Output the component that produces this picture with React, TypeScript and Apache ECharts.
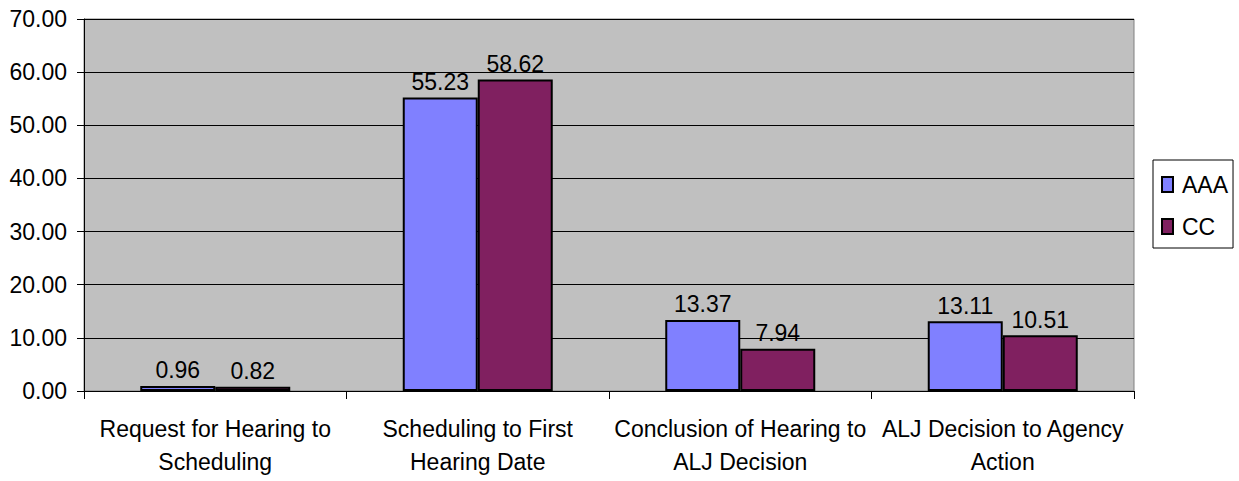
import React, { useEffect, useRef } from "react";
import * as echarts from "echarts";

const categories = [
  "Request for Hearing to\nScheduling",
  "Scheduling to First\nHearing Date",
  "Conclusion of Hearing to\nALJ Decision",
  "ALJ Decision to Agency\nAction",
];
const seriesNames = ["AAA", "CC"];
const aaaValues = [0.96, 55.23, 13.37, 13.11];
const ccValues = [0.82, 58.62, 7.94, 10.51];
const colors = ["#8080FF", "#802060"];

const FONT = "'Liberation Sans', Arial, sans-serif";

export default function App() {
  const ref = useRef<HTMLDivElement>(null);
  useEffect(() => {
    const chart = echarts.init(ref.current!, null, { renderer: "svg" });
    const label = {
      show: true,
      position: "top",
      distance: 4,
      color: "#000",
      fontFamily: FONT,
      fontSize: 23,
      formatter: (p: any) => Number(p.value).toFixed(2),
    };
    chart.setOption({
      animation: false,
      backgroundColor: "#ffffff",
      grid: {
        left: 84,
        right: 105,
        top: 19,
        bottom: 90,
        show: true,
        backgroundColor: "#C0C0C0",
        borderColor: "#808080",
        borderWidth: 1,
      },
      legend: {
        orient: "vertical",
        left: 1153,
        top: 160,
        backgroundColor: "#ffffff",
        borderColor: "#000",
        borderWidth: 1,
        padding: [13, 5, 10, 8],
        itemWidth: 11,
        itemHeight: 15,
        itemGap: 19,
        icon: "rect",
        textStyle: { fontFamily: FONT, fontSize: 23, color: "#000", padding: [0, 0, 0, 4] },
        data: seriesNames,
      },
      xAxis: {
        type: "category",
        data: categories,
        axisLine: { show: true, lineStyle: { color: "#000", width: 1 } },
        axisTick: { show: true, length: 8, lineStyle: { color: "#000" } },
        axisLabel: {
          interval: 0,
          margin: 21,
          color: "#000",
          fontFamily: FONT,
          fontSize: 23,
          lineHeight: 33,
        },
      },
      yAxis: {
        type: "value",
        min: 0,
        max: 70,
        interval: 10,
        axisLine: { show: true, lineStyle: { color: "#000", width: 1 } },
        axisTick: { show: true, length: 7, lineStyle: { color: "#000" } },
        splitLine: { show: true, lineStyle: { color: "#000", width: 1 } },
        axisLabel: {
          margin: 17,
          color: "#000",
          fontFamily: FONT,
          fontSize: 23,
          formatter: (v: number) => v.toFixed(2),
        },
      },
      series: [
        {
          name: seriesNames[0],
          type: "bar",
          data: aaaValues,
          barWidth: 75,
          barGap: "0%",
          itemStyle: { color: colors[0], borderColor: "#000", borderWidth: 2 },
          label,
        },
        {
          name: seriesNames[1],
          type: "bar",
          data: ccValues,
          barWidth: 75,
          barGap: "0%",
          itemStyle: { color: colors[1], borderColor: "#000", borderWidth: 2 },
          label,
        },
      ],
    });
    return () => chart.dispose();
  }, []);
  return (
    <div
      ref={ref}
      style={{ position: "absolute", left: 0, top: 0, width: 1239, height: 481 }}
    />
  );
}
